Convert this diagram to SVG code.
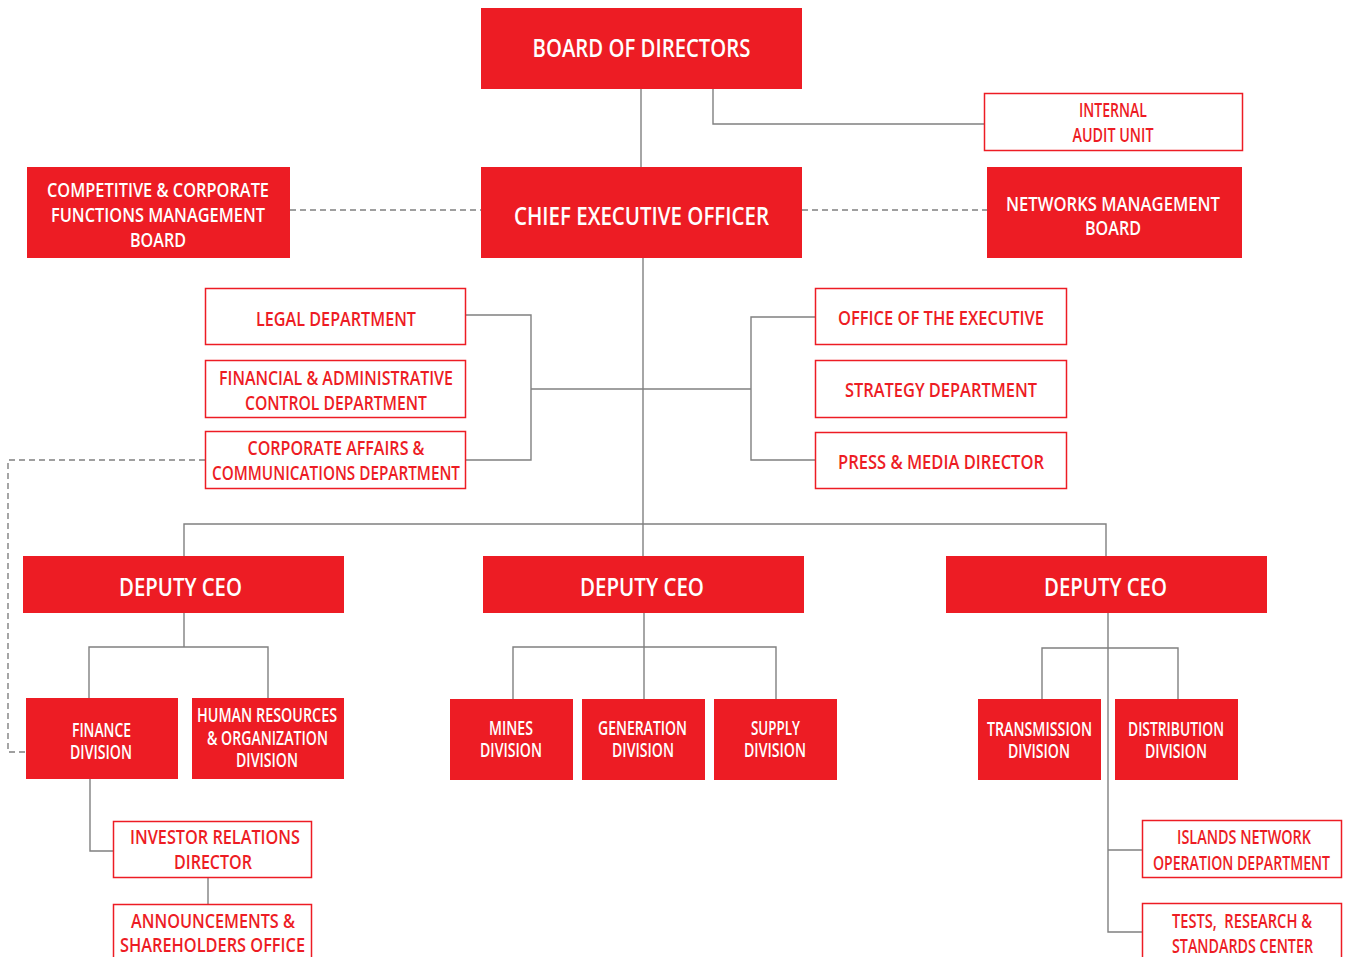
<svg xmlns="http://www.w3.org/2000/svg" width="1345" height="957" viewBox="0 0 1345 957">
<style>
.fill{fill:#ED1C24}
.box{fill:#fff;stroke:#ED1C24;stroke-width:1.5}
.w{fill:#fff;font-family:"Open Sans","Liberation Sans",sans-serif;font-weight:600;text-anchor:middle}
.r{fill:#ED1C24;font-family:"Open Sans","Liberation Sans",sans-serif;font-weight:600;text-anchor:middle}
.big{font-size:25px}
.mid{font-size:20px}
.sm{font-size:19.5px}
.ln{fill:none;stroke:#808080;stroke-width:1.4}
.dash{fill:none;stroke:#808080;stroke-width:1.4;stroke-dasharray:6 4}
</style>
<rect width="1345" height="957" fill="#fff"/>
<g id="connectors">
<path class="ln" d="M641 89V167"/>
<path class="ln" d="M713 89V124H984"/>
<path class="dash" d="M290 210H481"/>
<path class="dash" d="M802 210H987"/>
<path class="ln" d="M643 258V556"/>
<path class="ln" d="M466 315H531V460H466"/>
<path class="ln" d="M531 389H751"/>
<path class="ln" d="M815 317H751V460H815"/>
<path class="dash" d="M205 460H8V752H26"/>
<path class="ln" d="M184 556V524H1106V556"/>
<path class="ln" d="M184 613V647"/>
<path class="ln" d="M89 698V647H268V698"/>
<path class="ln" d="M90 779V851H113"/>
<path class="ln" d="M208 878V904"/>
<path class="ln" d="M644 613V699"/>
<path class="ln" d="M513 699V647H776V699"/>
<path class="ln" d="M1108 613V932H1142"/>
<path class="ln" d="M1108 850H1142"/>
<path class="ln" d="M1042 699V648H1178V699"/>
</g>
<g id="board">
<rect class="fill" x="481" y="8" width="321" height="81"/>
<text class="w big" x="641.5" y="57" textLength="218" lengthAdjust="spacingAndGlyphs">BOARD OF DIRECTORS</text>
</g>
<g id="audit">
<rect class="box" x="984.5" y="93.5" width="258" height="57"/>
<text class="r mid" x="1113" y="117" textLength="68" lengthAdjust="spacingAndGlyphs">INTERNAL</text>
<text class="r mid" x="1113" y="142" textLength="81" lengthAdjust="spacingAndGlyphs">AUDIT UNIT</text>
</g>
<g id="ceo">
<rect class="fill" x="481" y="167" width="321" height="91"/>
<text class="w big" x="641.5" y="225" textLength="255" lengthAdjust="spacingAndGlyphs">CHIEF EXECUTIVE OFFICER</text>
</g>
<g id="competitive">
<rect class="fill" x="27" y="167" width="263" height="91"/>
<text class="w mid" x="158" y="197" textLength="222" lengthAdjust="spacingAndGlyphs">COMPETITIVE &amp; CORPORATE</text>
<text class="w mid" x="158" y="222" textLength="214" lengthAdjust="spacingAndGlyphs">FUNCTIONS MANAGEMENT</text>
<text class="w mid" x="158" y="247" textLength="56" lengthAdjust="spacingAndGlyphs">BOARD</text>
</g>
<g id="networks">
<rect class="fill" x="987" y="167" width="255" height="91"/>
<text class="w mid" x="1113" y="211" textLength="214" lengthAdjust="spacingAndGlyphs">NETWORKS MANAGEMENT</text>
<text class="w mid" x="1113" y="235" textLength="56" lengthAdjust="spacingAndGlyphs">BOARD</text>
</g>
<g id="legal">
<rect class="box" x="205.5" y="288.5" width="260" height="56"/>
<text class="r mid" x="336" y="326" textLength="160" lengthAdjust="spacingAndGlyphs">LEGAL DEPARTMENT</text>
</g>
<g id="financial">
<rect class="box" x="205.5" y="360.5" width="260" height="57"/>
<text class="r mid" x="336" y="385" textLength="234" lengthAdjust="spacingAndGlyphs">FINANCIAL &amp; ADMINISTRATIVE</text>
<text class="r mid" x="336" y="410" textLength="182" lengthAdjust="spacingAndGlyphs">CONTROL DEPARTMENT</text>
</g>
<g id="corporate">
<rect class="box" x="205.5" y="431.5" width="260" height="57"/>
<text class="r mid" x="336" y="455" textLength="177" lengthAdjust="spacingAndGlyphs">CORPORATE AFFAIRS &amp;</text>
<text class="r mid" x="336" y="480" textLength="248" lengthAdjust="spacingAndGlyphs">COMMUNICATIONS DEPARTMENT</text>
</g>
<g id="office">
<rect class="box" x="815.5" y="288.5" width="251" height="56"/>
<text class="r mid" x="941" y="325" textLength="206" lengthAdjust="spacingAndGlyphs">OFFICE OF THE EXECUTIVE</text>
</g>
<g id="strategy">
<rect class="box" x="815.5" y="360.5" width="251" height="57"/>
<text class="r mid" x="941" y="397" textLength="192" lengthAdjust="spacingAndGlyphs">STRATEGY DEPARTMENT</text>
</g>
<g id="press">
<rect class="box" x="815.5" y="432.5" width="251" height="56"/>
<text class="r mid" x="941" y="469" textLength="206" lengthAdjust="spacingAndGlyphs">PRESS &amp; MEDIA DIRECTOR</text>
</g>
<g id="deputy1">
<rect class="fill" x="23" y="556" width="321" height="57"/>
<text class="w big" x="180.5" y="596" textLength="123" lengthAdjust="spacingAndGlyphs">DEPUTY CEO</text>
</g>
<g id="deputy2">
<rect class="fill" x="483" y="556" width="321" height="57"/>
<text class="w big" x="642" y="596" textLength="124" lengthAdjust="spacingAndGlyphs">DEPUTY CEO</text>
</g>
<g id="deputy3">
<rect class="fill" x="946" y="556" width="321" height="57"/>
<text class="w big" x="1105.5" y="596" textLength="123" lengthAdjust="spacingAndGlyphs">DEPUTY CEO</text>
</g>
<g id="finance">
<rect class="fill" x="26" y="698" width="152" height="81"/>
<text class="w sm" x="101.5" y="737" textLength="59" lengthAdjust="spacingAndGlyphs">FINANCE</text>
<text class="w sm" x="101" y="759" textLength="62" lengthAdjust="spacingAndGlyphs">DIVISION</text>
</g>
<g id="hr">
<rect class="fill" x="192" y="698" width="152" height="81"/>
<text class="w sm" x="267" y="722" textLength="140" lengthAdjust="spacingAndGlyphs">HUMAN RESOURCES</text>
<text class="w sm" x="267.5" y="745" textLength="121" lengthAdjust="spacingAndGlyphs">&amp; ORGANIZATION</text>
<text class="w sm" x="267" y="767" textLength="62" lengthAdjust="spacingAndGlyphs">DIVISION</text>
</g>
<g id="investor">
<rect class="box" x="113.5" y="821.5" width="198" height="56"/>
<text class="r mid" x="215" y="844" textLength="170" lengthAdjust="spacingAndGlyphs">INVESTOR RELATIONS</text>
<text class="r mid" x="213" y="869" textLength="78" lengthAdjust="spacingAndGlyphs">DIRECTOR</text>
</g>
<g id="announcements">
<rect class="box" x="113.5" y="904.5" width="198" height="70"/>
<text class="r mid" x="213" y="928" textLength="164" lengthAdjust="spacingAndGlyphs">ANNOUNCEMENTS &amp;</text>
<text class="r mid" x="212.5" y="952" textLength="185" lengthAdjust="spacingAndGlyphs">SHAREHOLDERS OFFICE</text>
</g>
<g id="mines">
<rect class="fill" x="450" y="699" width="123" height="81"/>
<text class="w sm" x="511" y="735" textLength="44" lengthAdjust="spacingAndGlyphs">MINES</text>
<text class="w sm" x="511" y="757" textLength="62" lengthAdjust="spacingAndGlyphs">DIVISION</text>
</g>
<g id="generation">
<rect class="fill" x="582" y="699" width="123" height="81"/>
<text class="w sm" x="642.5" y="735" textLength="89" lengthAdjust="spacingAndGlyphs">GENERATION</text>
<text class="w sm" x="643" y="757" textLength="62" lengthAdjust="spacingAndGlyphs">DIVISION</text>
</g>
<g id="supply">
<rect class="fill" x="714" y="699" width="123" height="81"/>
<text class="w sm" x="775.5" y="735" textLength="49" lengthAdjust="spacingAndGlyphs">SUPPLY</text>
<text class="w sm" x="775" y="757" textLength="62" lengthAdjust="spacingAndGlyphs">DIVISION</text>
</g>
<g id="transmission">
<rect class="fill" x="978" y="699" width="123" height="81"/>
<text class="w sm" x="1039.5" y="736" textLength="105" lengthAdjust="spacingAndGlyphs">TRANSMISSION</text>
<text class="w sm" x="1039" y="758" textLength="62" lengthAdjust="spacingAndGlyphs">DIVISION</text>
</g>
<g id="distribution">
<rect class="fill" x="1115" y="699" width="123" height="81"/>
<text class="w sm" x="1176" y="736" textLength="96" lengthAdjust="spacingAndGlyphs">DISTRIBUTION</text>
<text class="w sm" x="1176" y="758" textLength="62" lengthAdjust="spacingAndGlyphs">DIVISION</text>
</g>
<g id="islands">
<rect class="box" x="1142.5" y="820.5" width="199" height="57"/>
<text class="r mid" x="1244" y="844" textLength="134" lengthAdjust="spacingAndGlyphs">ISLANDS NETWORK</text>
<text class="r mid" x="1241.5" y="870" textLength="177" lengthAdjust="spacingAndGlyphs">OPERATION DEPARTMENT</text>
</g>
<g id="tests">
<rect class="box" x="1142.5" y="903.5" width="199" height="70"/>
<text class="r mid" x="1242" y="928" textLength="140" lengthAdjust="spacingAndGlyphs" xml:space="preserve">TESTS,  RESEARCH &amp;</text>
<text class="r mid" x="1242.5" y="953" textLength="141" lengthAdjust="spacingAndGlyphs">STANDARDS CENTER</text>
</g>
</svg>
